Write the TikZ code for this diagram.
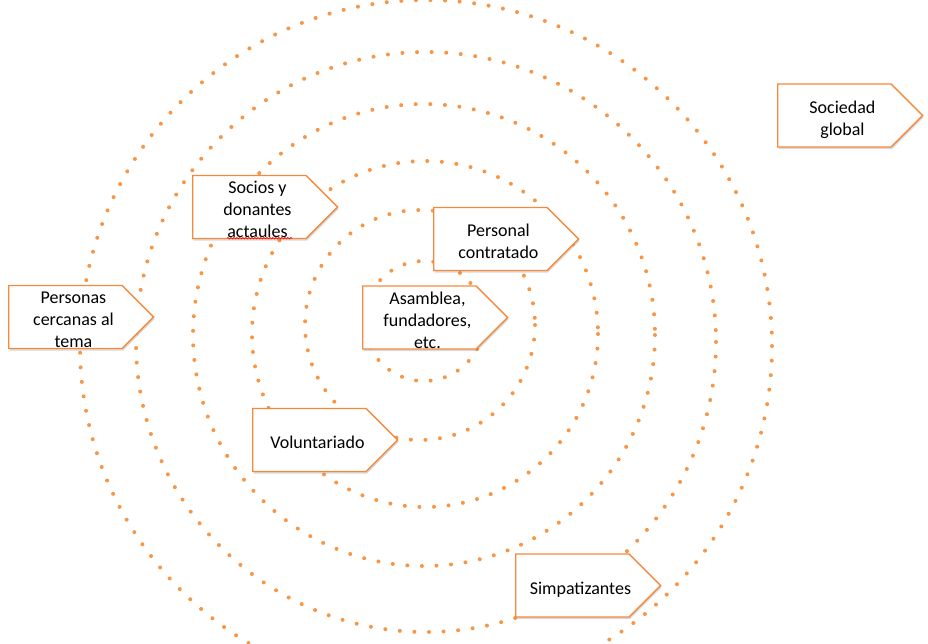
\documentclass[tikz,border=0pt]{standalone}
\usepackage{fontspec}
\setmainfont{Carlito}
\usetikzlibrary{shapes.symbols,shadows,decorations.pathmorphing}
\definecolor{ringorange}{HTML}{F79646}
\definecolor{boxorange}{HTML}{F58A3C}
\newcommand{\rotulo}[1]{\begin{tabular}{@{\hspace{12pt}}c@{\hspace{-4pt}}}#1\end{tabular}}

\tikzset{
  ring/.style={ringorange, line width=4pt, line cap=round,
    dash pattern=on 0pt off 14.6pt},
  grupo/.style={shape=signal, signal to=east, signal pointer angle=90,
    draw=boxorange, line width=1.4pt, fill=white, align=center,
    minimum width=145, text height=40pt, text depth=23pt,
    inner sep=0pt, anchor=west,
    font=\fontsize{18}{22}\selectfont,
    drop shadow={shadow xshift=1pt, shadow yshift=-2pt, opacity=0.3}}
}

\begin{document}
\begin{tikzpicture}[x=1pt, y=-1pt]
        \useasboundingbox (0,0) rectangle (928,643);
        \clip (0,0) rectangle (928,643);

        \foreach \cx/\cy/\r in {424/321/60, 420/325/115, 425/334/173,
          424/335/231, 426/342/290, 426/346/346}
          \draw [ring] (\cx,\cy) circle [radius=\r];

        \node [grupo] (sociedad) at (777,115.5) {\rotulo{Sociedad\\global}};
        \node [grupo] (socios) at (192,207) {\rotulo{Socios y\\donantes\\actaules}};
        \node [grupo] (personal) at (433,239) {\rotulo{Personal\\contratado}};
        \node [grupo] (asamblea) at (362,317.5) {\rotulo{Asamblea,\\fundadores,\\etc.}};
        \node [grupo] (personas) at (8,317) {\rotulo{Personas\\cercanas al\\tema}};
        \node [grupo] (voluntariado) at (252,440) {\rotulo{Voluntariado}};
        \node [grupo] (simpatizantes) at (515,585.5) {\rotulo{Simpatizantes}};

        \draw [red, line width=0.6pt, decorate,
          decoration={snake, amplitude=0.8pt, segment length=3pt}]
          ([xshift=35pt, yshift=1pt]socios.south west)
          -- ([xshift=100pt, yshift=1pt]socios.south west);

\end{tikzpicture}
\end{document}
